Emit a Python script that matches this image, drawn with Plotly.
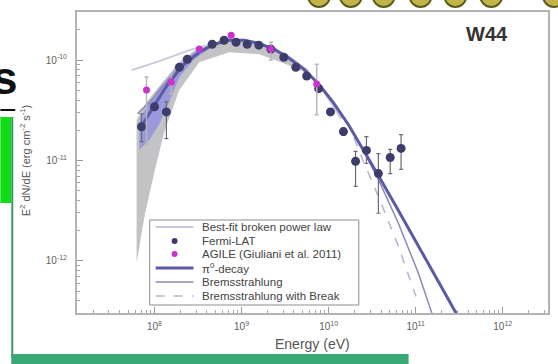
import plotly.graph_objects as go

# ---------------- data ----------------
# Fermi-LAT spectral points of W44: energy (eV), E^2 dN/dE (erg cm^-2 s^-1)
lat_energy = [7.1e7, 1.0e8, 1.37e8, 1.93e8, 2.38e8, 4.6e8, 6.3e8, 8.65e8, 1.16e9, 1.58e9,
              2.17e9, 3.06e9, 4.2e9, 5.6e9, 7.7e9, 1.05e10, 1.48e10, 2.04e10, 2.72e10,
              3.73e10, 5.1e10, 6.8e10]
lat_flux = [2.17e-11, 3.43e-11, 3.05e-11, 8.5e-11, 1.02e-10, 1.44e-10, 1.58e-10, 1.51e-10,
            1.44e-10, 1.41e-10, 1.29e-10, 1.07e-10, 8.5e-11, 6.95e-11, 5.2e-11, 3.05e-11,
            1.94e-11, 9.8e-12, 1.26e-11, 7.4e-12, 1.07e-11, 1.32e-11]
lat_upper = [2.92e-11, 3.7e-11, 3.84e-11, 9.0e-11, 1.07e-10, 1.5e-10, 1.64e-10, 1.57e-10,
             1.5e-10, 1.47e-10, 1.35e-10, 1.12e-10, 8.9e-11, 7.3e-11, 5.5e-11, 3.25e-11,
             2.1e-11, 1.23e-11, 1.73e-11, 1.17e-11, 1.29e-11, 1.81e-11]
lat_lower = [1.54e-11, 3.15e-11, 1.65e-11, 8.0e-11, 9.7e-11, 1.38e-10, 1.52e-10, 1.45e-10,
             1.38e-10, 1.35e-10, 1.23e-10, 1.02e-10, 8.1e-11, 6.6e-11, 4.9e-11, 2.85e-11,
             1.78e-11, 5.53e-12, 9.33e-12, 2.98e-12, 7.4e-12, 8.15e-12]

# AGILE points (Giuliani et al. 2011)
agile_energy = [8.1e7, 1.56e8, 3.27e8, 7.6e8, 2.17e9, 7.3e9]
agile_flux = [5.05e-11, 6.05e-11, 1.29e-10, 1.77e-10, 1.29e-10, 5.8e-11]
agile_upper = [6.79e-11, 7.26e-11, 1.36e-10, 1.85e-10, 1.51e-10, 9.1e-11]
agile_lower = [1.44e-11, 4.6e-11, 1.22e-10, 1.69e-10, 1.0e-10, 2.85e-11]

# model curves
pi0_energy = [6.74e7, 1.0e8, 1.48e8, 2.2e8, 3.27e8, 4.85e8, 7.2e8, 1.07e9, 1.58e9, 2.35e9,
              3.49e9, 5.18e9, 7.69e9, 1.14e10, 1.69e10, 2.51e10, 3.73e10, 6.31e10, 1.07e11,
              1.81e11, 3.06e11]
pi0_flux = [2.03e-11, 3.58e-11, 6.06e-11, 9.13e-11, 1.2e-10, 1.44e-10, 1.58e-10, 1.58e-10,
            1.47e-10, 1.29e-10, 1.05e-10, 8.15e-11, 5.78e-11, 3.75e-11, 2.27e-11, 1.29e-11,
            7.1e-12, 3.2e-12, 1.41e-12, 6.34e-13, 2.79e-13]

brems_energy = [6.4e7, 1.0e8, 1.48e8, 2.2e8, 3.27e8, 4.85e8, 7.2e8, 1.07e9, 1.58e9, 2.35e9,
                3.49e9, 5.18e9, 7.69e9, 1.14e10, 1.69e10, 2.51e10, 3.73e10, 6.31e10, 1.07e11,
                1.58e11]
brems_flux = [2.92e-11, 4.31e-11, 6.49e-11, 9.34e-11, 1.2e-10, 1.44e-10, 1.58e-10, 1.58e-10,
              1.47e-10, 1.29e-10, 1.05e-10, 8.15e-11, 5.78e-11, 3.75e-11, 2.27e-11, 1.26e-11,
              6.49e-12, 2.38e-12, 7.6e-13, 2.79e-13]

brems_break_energy = [6.4e7, 1.0e8, 1.48e8, 2.2e8, 3.27e8, 4.85e8, 7.2e8, 1.07e9, 1.58e9,
                      2.35e9, 3.49e9, 5.18e9, 7.69e9, 1.14e10, 1.69e10, 2.51e10, 3.73e10,
                      6.31e10, 1.01e11]
brems_break_flux = [2.92e-11, 4.31e-11, 6.49e-11, 9.34e-11, 1.2e-10, 1.44e-10, 1.58e-10,
                    1.58e-10, 1.47e-10, 1.29e-10, 1.05e-10, 8.15e-11, 5.78e-11, 3.75e-11,
                    2.3e-11, 9.8e-12, 4.4e-12, 1.41e-12, 4.4e-13]

bpl_energy = [5.46e7, 1.14e8, 2.51e8, 4.85e8, 1.07e9, 2.35e9, 3.49e9, 7.69e9, 1.4e10]
bpl_flux = [7.96e-11, 9.77e-11, 1.26e-10, 1.47e-10, 1.61e-10, 1.32e-10, 1.07e-10, 5.9e-11,
            2.6e-11]

# uncertainty bands
sys_energy = [6.23e7, 7.69e7, 1.0e8, 1.3e8, 1.93e8, 3.27e8, 7.2e8, 1.58e9, 3.49e9, 5.91e9]
sys_high = [2.55e-11, 3.58e-11, 4.82e-11, 6.34e-11, 9.55e-11, 1.35e-10, 1.65e-10, 1.54e-10,
            1.12e-10, 7.96e-11]
sys_low = [9.55e-13, 2.79e-12, 7.78e-12, 1.94e-11, 5.05e-11, 9.55e-11, 1.2e-10, 1.15e-10,
           8.92e-11, 7.26e-11]

fit_energy = [6.74e7, 8.77e7, 1.14e8, 1.48e8, 1.93e8, 2.86e8, 4.25e8]
fit_high = [2.61e-11, 3.84e-11, 5.28e-11, 6.95e-11, 9.13e-11, 1.2e-10, 1.41e-10]
fit_low = [1.29e-11, 1.61e-11, 2.32e-11, 3.84e-11, 6.79e-11, 1.02e-10, 1.29e-10]

x_tick_exps = [8, 9, 10, 11, 12]
y_tick_exps = [-12, -11, -10]

legend_labels = ["Best-fit broken power law", "Fermi-LAT", "AGILE (Giuliani et al. 2011)",
                 "\u03c0<sup>0</sup>-decay", "Bremsstrahlung", "Bremsstrahlung with Break"]

# ---------------- styles ----------------
C_BPL = "#c9c9dc"
C_LAT = "#3d3d6b"
C_AGILE = "#cc33cc"
C_PI0 = "#5a5aa6"
C_BREMS = "#8a8ab4"
C_BREAK = "#b4b4cc"

# ---------------- figure ----------------
W, H = 558, 364
ML, MR, MT, MB = 77, 8, 12, 51
PW, PH = W - ML - MR, H - MT - MB


def px(x):
    return (x - ML) / PW


def py(y):
    return (H - MB - y) / PH


FONT = "Liberation Sans, Arial, sans-serif"
fig = go.Figure()

# grey systematic band
fig.add_trace(go.Scatter(x=sys_energy + sys_energy[::-1], y=sys_high + sys_low[::-1],
                         fill="toself", fillcolor="rgba(175,175,178,0.75)",
                         line=dict(width=0), mode="lines", hoverinfo="skip"))
# blue fit band
fig.add_trace(go.Scatter(x=fit_energy + fit_energy[::-1], y=fit_high + fit_low[::-1],
                         fill="toself", fillcolor="rgba(125,125,235,0.6)",
                         line=dict(width=0), mode="lines", hoverinfo="skip"))

fig.add_trace(go.Scatter(x=bpl_energy, y=bpl_flux, mode="lines", name=legend_labels[0],
                         line=dict(color=C_BPL, width=2)))
fig.add_trace(go.Scatter(x=brems_break_energy, y=brems_break_flux, mode="lines",
                         name=legend_labels[5],
                         line=dict(color=C_BREAK, width=1.5, dash="dash")))
fig.add_trace(go.Scatter(x=brems_energy, y=brems_flux, mode="lines", name=legend_labels[4],
                         line=dict(color=C_BREMS, width=1.5)))
fig.add_trace(go.Scatter(x=pi0_energy, y=pi0_flux, mode="lines", name=legend_labels[3],
                         line=dict(color=C_PI0, width=3)))

lat_up = [u - f for u, f in zip(lat_upper, lat_flux)]
lat_dn = [f - l for f, l in zip(lat_flux, lat_lower)]
fig.add_trace(go.Scatter(x=lat_energy, y=lat_flux, mode="markers", name=legend_labels[1],
                         marker=dict(color=C_LAT, size=9),
                         error_y=dict(type="data", symmetric=False, array=lat_up,
                                      arrayminus=lat_dn, color="#6a6a7a",
                                      thickness=1.2, width=2)))

ag_up = [u - f for u, f in zip(agile_upper, agile_flux)]
ag_dn = [f - l for f, l in zip(agile_flux, agile_lower)]
fig.add_trace(go.Scatter(x=agile_energy, y=agile_flux, mode="markers",
                         name=legend_labels[2],
                         marker=dict(color=C_AGILE, size=7),
                         error_y=dict(type="data", symmetric=False, array=ag_up,
                                      arrayminus=ag_dn, color="#b8b8b8",
                                      thickness=1.5, width=2)))

minor_x = [m * 10 ** e for e in range(7, 13) for m in range(2, 10)]
minor_y = [m * 10 ** e for e in range(-13, -9) for m in range(2, 10)]

axis_common = dict(type="log", showgrid=False, zeroline=False, showline=True,
                   linecolor="#b3b3b3", linewidth=2, mirror=True, ticks="inside",
                   ticklen=6, tickcolor="#9a9a9a", tickfont=dict(family=FONT, size=10,
                                                                 color="#606060"))

fig.update_xaxes(range=[7.11, 12.52],
                 tickvals=[10 ** e for e in x_tick_exps],
                 ticktext=[f"10<sup>{e}</sup>" for e in x_tick_exps],
                 ticklabelstandoff=3,
                 minor=dict(tickvals=minor_x, ticks="inside", ticklen=3,
                            tickcolor="#a8a8a8"),
                 **axis_common)
fig.update_yaxes(range=[-12.52, -9.52],
                 tickvals=[10.0 ** e for e in y_tick_exps],
                 ticktext=[f"10<sup>{e}</sup>" for e in y_tick_exps],
                 ticklabelstandoff=6,
                 minor=dict(tickvals=minor_y, ticks="inside", ticklen=3,
                            tickcolor="#a8a8a8"),
                 **axis_common)

annotations = [
    dict(x=px(489), y=py(34), text="<b>W44</b>",
         font=dict(family=FONT, size=20, color="#333333")),
    dict(x=px(314), y=py(344), text="Energy (eV)",
         font=dict(family=FONT, size=14, color="#555555")),
    dict(x=px(25), y=py(160), text="E<sup>2</sup> dN/dE (erg cm<sup>-2</sup> s<sup>-1</sup>)",
         textangle=-90, font=dict(family=FONT, size=11, color="#555555")),
    dict(x=px(5), y=py(78), text="<b>s</b>",
         font=dict(family=FONT, size=46, color="#111111")),
]

shapes = [
    # slide decorations around the chart
    dict(type="rect", x0=px(0), x1=px(11), y0=py(203), y1=py(117),
         fillcolor="#12dc1a", line=dict(width=0)),
    dict(type="rect", x0=px(11), x1=px(13), y0=py(358), y1=py(117),
         fillcolor="#3a9a6a", line=dict(width=0)),
    dict(type="rect", x0=px(11), x1=px(410), y0=py(365), y1=py(354),
         fillcolor="#3aa874", line=dict(width=0)),
    dict(type="line", x0=px(0), x1=px(15), y0=py(110), y1=py(110),
         line=dict(color="#111111", width=2)),
]
for cx in [320, 352, 385, 422, 457, 493, 556]:
    shapes.append(dict(type="circle", x0=px(cx - 11), x1=px(cx + 11),
                       y0=py(7), y1=py(-15), fillcolor="#c2b448",
                       line=dict(color="#5c5c1c", width=2)))

# legend box drawn by hand for tight row spacing
LX0, LX1, LY0, LY1 = 150, 360, 220, 305
rows = [227, 241, 254, 268, 282, 296]
shapes.append(dict(type="rect", x0=px(LX0), x1=px(LX1), y0=py(LY1), y1=py(LY0),
                   fillcolor="white", line=dict(color="#8c8c8c", width=1)))
line_samples = {0: (C_BPL, 2, "solid"), 3: (C_PI0, 3, "solid"),
                4: (C_BREMS, 1.5, "solid"), 5: (C_BREAK, 1.5, "dash")}
for i, (c, w, d) in line_samples.items():
    shapes.append(dict(type="line", x0=px(156), x1=px(194), y0=py(rows[i]), y1=py(rows[i]),
                       line=dict(color=c, width=w, dash=d)))
for i, c in [(1, C_LAT), (2, C_AGILE)]:
    shapes.append(dict(type="circle", x0=px(172), x1=px(178), y0=py(rows[i] + 3),
                       y1=py(rows[i] - 3), fillcolor=c, line=dict(width=0)))
for i, lab in enumerate(legend_labels):
    annotations.append(dict(x=px(201), y=py(rows[i]), text=lab, xanchor="left",
                            font=dict(family=FONT, size=11.5, color="#444444")))

for s in shapes:
    s.update(xref="paper", yref="paper", layer="above")
for a in annotations:
    a.update(xref="paper", yref="paper", showarrow=False)
    a.setdefault("xanchor", "center")
    a.setdefault("yanchor", "middle")

fig.update_layout(
    width=W, height=H,
    margin=dict(l=ML, r=MR, t=MT, b=MB, pad=0),
    paper_bgcolor="white", plot_bgcolor="white",
    font=dict(family=FONT, color="#555555"),
    showlegend=False,
    annotations=annotations,
    shapes=shapes,
)

fig.write_html("out.html")
